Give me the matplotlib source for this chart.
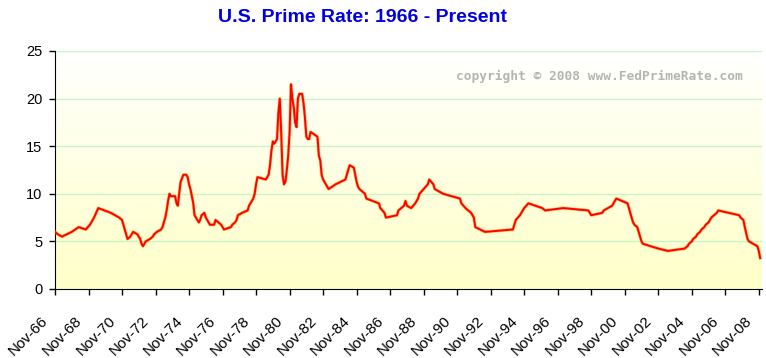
import numpy as np
import pandas as pd
import matplotlib
matplotlib.use("Agg")
import matplotlib.pyplot as plt
import matplotlib.dates as mdates
import matplotlib.patheffects as pe
from matplotlib.transforms import ScaledTranslation

# prime rate (month, percent)
months = [
    "1966-11", "1967-01", "1967-04", "1967-11", "1968-04", "1968-09", "1968-12",
    "1969-01", "1969-03", "1969-06", "1970-03", "1970-09", "1970-11", "1970-12",
    "1971-01", "1971-02", "1971-03", "1971-05", "1971-07", "1971-10", "1971-11",
    "1971-12", "1972-01", "1972-02", "1972-04", "1972-07", "1972-09", "1972-10",
    "1972-12", "1973-03", "1973-04", "1973-05", "1973-06", "1973-07", "1973-08",
    "1973-09", "1973-10", "1974-01", "1974-02", "1974-03", "1974-04", "1974-05",
    "1974-07", "1974-09", "1974-10", "1974-11", "1974-12", "1975-01", "1975-02",
    "1975-03", "1975-05", "1975-06", "1975-07", "1975-08", "1975-10", "1975-11",
    "1975-12", "1976-01", "1976-02", "1976-05", "1976-06", "1976-08", "1976-10",
    "1976-11", "1976-12", "1977-05", "1977-06", "1977-08", "1977-09", "1977-10",
    "1978-01", "1978-05", "1978-06", "1978-07", "1978-09", "1978-10", "1978-11",
    "1978-12", "1979-06", "1979-08", "1979-09", "1979-10", "1979-11", "1979-12",
    "1980-02", "1980-03", "1980-04", "1980-05", "1980-06", "1980-07", "1980-08",
    "1980-09", "1980-10", "1980-11", "1980-12", "1981-01", "1981-02", "1981-03",
    "1981-04", "1981-05", "1981-06", "1981-08", "1981-09", "1981-10", "1981-11",
    "1981-12", "1982-01", "1982-02", "1982-07", "1982-08", "1982-09", "1982-10",
    "1982-11", "1983-01", "1983-03", "1983-08", "1984-03", "1984-04", "1984-05",
    "1984-06", "1984-09", "1984-10", "1984-11", "1984-12", "1985-01", "1985-05",
    "1985-06", "1986-03", "1986-04", "1986-07", "1986-08", "1987-04", "1987-05",
    "1987-09", "1987-10", "1987-11", "1988-02", "1988-05", "1988-07", "1988-08",
    "1988-11", "1989-02", "1989-03", "1989-06", "1989-07", "1990-01", "1991-01",
    "1991-02", "1991-05", "1991-09", "1991-11", "1991-12", "1992-07", "1994-03",
    "1994-04", "1994-05", "1994-08", "1994-11", "1995-02", "1995-07", "1995-12",
    "1996-02", "1997-03", "1998-09", "1998-10", "1998-11", "1999-07", "1999-08",
    "1999-11", "2000-02", "2000-03", "2000-05", "2001-01", "2001-02", "2001-03",
    "2001-04", "2001-05", "2001-06", "2001-08", "2001-09", "2001-10", "2001-11",
    "2001-12", "2002-11", "2003-06", "2004-06", "2004-08", "2004-09", "2004-11",
    "2004-12", "2005-02", "2005-03", "2005-05", "2005-06", "2005-08", "2005-09",
    "2005-11", "2005-12", "2006-01", "2006-03", "2006-05", "2006-06", "2007-09",
    "2007-10", "2007-12", "2008-01", "2008-03", "2008-04", "2008-10", "2008-11",
    "2008-12",
]
rates = [
    6.0, 5.75, 5.5, 6.0, 6.5, 6.25, 6.75,
    7.0, 7.5, 8.5, 8.0, 7.5, 7.25, 6.75,
    6.25, 5.75, 5.25, 5.5, 6.0, 5.75, 5.5,
    5.25, 4.75, 4.5, 5.0, 5.25, 5.5, 5.75,
    6.0, 6.25, 6.5, 7.0, 7.5, 8.25, 9.25,
    10.0, 9.75, 9.75, 9.0, 8.75, 10.0, 11.25,
    12.0, 12.0, 11.75, 11.0, 10.5, 9.75, 9.0,
    7.75, 7.25, 7.0, 7.25, 7.75, 8.0, 7.5,
    7.25, 7.0, 6.75, 6.75, 7.25, 7.0, 6.75,
    6.5, 6.25, 6.5, 6.75, 7.0, 7.25, 7.75,
    8.0, 8.25, 8.75, 9.0, 9.5, 10.0, 11.0,
    11.75, 11.5, 12.0, 13.0, 14.5, 15.5, 15.25,
    15.75, 18.5, 20.0, 16.5, 12.0, 11.0, 11.25,
    12.5, 14.0, 16.5, 21.5, 20.0, 19.0, 17.5,
    17.0, 20.0, 20.5, 20.5, 19.5, 18.0, 16.0,
    15.75, 15.75, 16.5, 16.0, 14.0, 13.5, 12.0,
    11.5, 11.0, 10.5, 11.0, 11.5, 12.0, 12.5,
    13.0, 12.75, 12.0, 11.25, 10.75, 10.5, 10.0,
    9.5, 9.0, 8.5, 8.0, 7.5, 7.75, 8.25,
    8.75, 9.25, 8.75, 8.5, 9.0, 9.5, 10.0,
    10.5, 11.0, 11.5, 11.0, 10.5, 10.0, 9.5,
    9.0, 8.5, 8.0, 7.5, 6.5, 6.0, 6.25,
    6.75, 7.25, 7.75, 8.5, 9.0, 8.75, 8.5,
    8.25, 8.5, 8.25, 8.0, 7.75, 8.0, 8.25,
    8.5, 8.75, 9.0, 9.5, 9.0, 8.5, 8.0,
    7.5, 7.0, 6.75, 6.5, 6.0, 5.5, 5.0,
    4.75, 4.25, 4.0, 4.25, 4.5, 4.75, 5.0,
    5.25, 5.5, 5.75, 6.0, 6.25, 6.5, 6.75,
    7.0, 7.25, 7.5, 7.75, 8.0, 8.25, 7.75,
    7.5, 7.25, 6.5, 5.25, 5.0, 4.5, 4.0,
    3.25,
]
tick_dates = pd.date_range("1966-11-01", "2008-11-01", freq="24MS")
y_ticks = [0, 5, 10, 15, 20, 25]

dates = pd.to_datetime(months)

plt.rcParams["font.family"] = ["Liberation Sans", "DejaVu Sans"]

fig = plt.figure(figsize=(7.66, 3.58), dpi=100)
ax = fig.add_axes([55/766, 1-289/358, 707/766, 238/358])

# white-to-yellow background
grad = np.linspace(0, 1, 256).reshape(-1, 1)
cmap = matplotlib.colors.LinearSegmentedColormap.from_list("bg", ["#FFFFC8", "#FFFFFF"])
ax.imshow(grad, cmap=cmap, aspect="auto", extent=[0, 1, 0, 1],
          transform=ax.transAxes, origin="lower", zorder=0)

for yv in y_ticks[1:]:
    ax.axhline(yv, color="#C8F5C8", lw=1, zorder=1)

ax.plot(dates, rates, color="#FF0000", lw=1.4, zorder=3,
        path_effects=[pe.Stroke(linewidth=2.3, foreground="#FF8C00", alpha=0.55), pe.Normal()])

ax.set_xlim(pd.Timestamp("1966-11-01"), pd.Timestamp("2009-01-10"))
ax.set_ylim(0, 25)
ax.set_yticks(y_ticks)
ax.set_xticks(tick_dates)
ax.xaxis.set_major_formatter(mdates.DateFormatter("%b-%y"))

for s in ["top", "right"]:
    ax.spines[s].set_visible(False)
ax.spines["left"].set_color("black")
ax.spines["bottom"].set_color("black")

ax.tick_params(axis="both", direction="out", length=4, width=1)
ax.tick_params(axis="y", pad=5, labelsize=10.5)
ax.tick_params(axis="x", labelsize=11)
shift = ScaledTranslation(-9/100, -19/100, fig.dpi_scale_trans)
for lab in ax.get_xticklabels():
    lab.set_rotation(45)
    lab.set_ha("right")
    lab.set_va("center")
    lab.set_rotation_mode("anchor")
    lab.set_transform(lab.get_transform() + shift)

fig.text(363/766, 1-18/358, "U.S. Prime Rate: 1966 - Present", color="#0000E0",
         fontsize=14, fontweight="bold", ha="center", va="center")
fig.text(743/766, 1-76/358, "copyright \u00a9 2008 www.FedPrimeRate.com",
         color="#B4B4B4", fontsize=9.3, fontweight="bold", family="DejaVu Sans Mono",
         ha="right", va="center")

fig.savefig("out.png", dpi=100)
